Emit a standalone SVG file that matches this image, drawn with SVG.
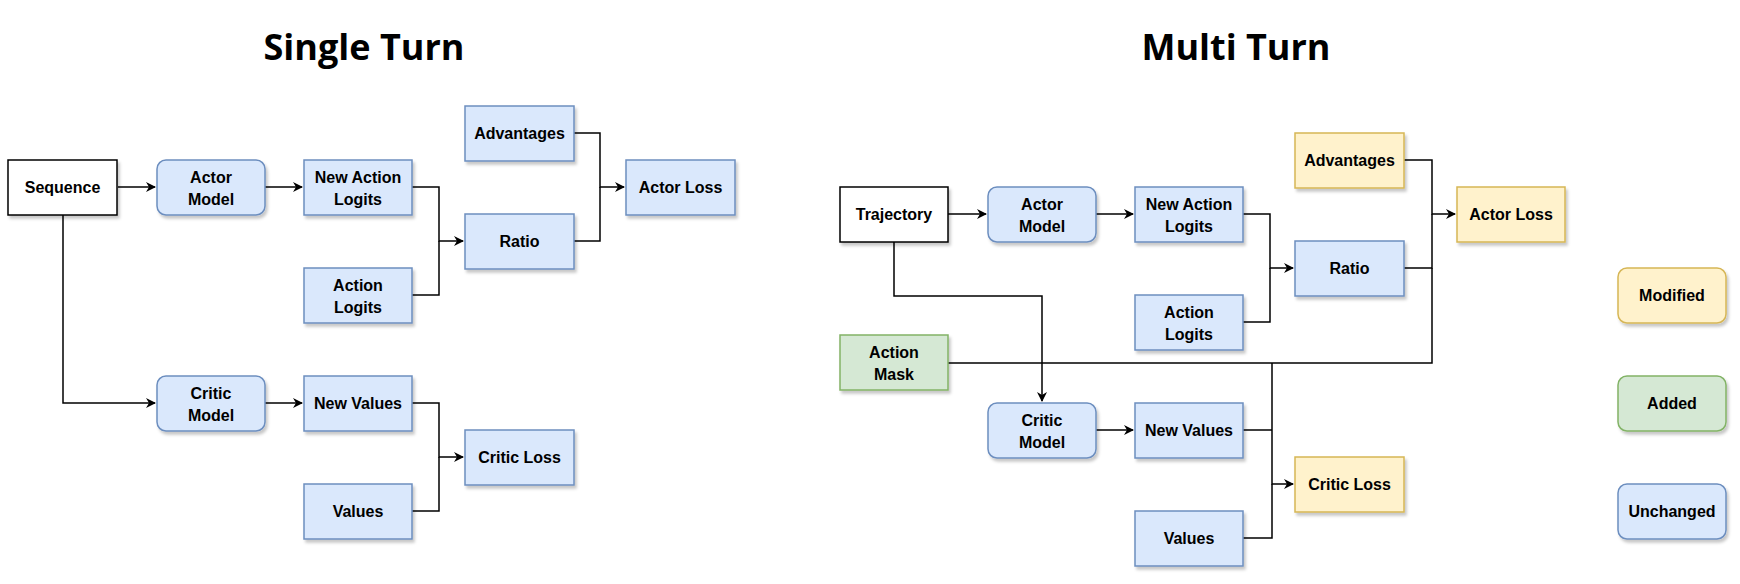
<svg xmlns="http://www.w3.org/2000/svg" width="1740" height="584" viewBox="0 0 1740 584">
<defs>
<filter id="sh" x="-10%" y="-10%" width="130%" height="140%"><feDropShadow dx="2" dy="3" stdDeviation="1.5" flood-color="#000" flood-opacity="0.22"/></filter>
<marker id="ar" markerWidth="10" markerHeight="10" refX="9" refY="5" orient="auto" markerUnits="userSpaceOnUse"><path d="M0,0 L10,5 L0,10 L3,5 Z" fill="#000"/></marker>
</defs>
<style>
.b rect{filter:url(#sh);stroke-width:1.5}
.u rect{fill:#dae8fc;stroke:#6c8ebf}
.m rect{fill:#fff2cc;stroke:#d6b656}
.a rect{fill:#d5e8d4;stroke:#82b366}
.w rect{fill:#fff;stroke:#000}
text{font-family:"Liberation Sans",Arial,sans-serif;font-weight:bold;font-size:16px;text-anchor:middle;fill:#000}
.t{font-size:36px;font-family:"Open Sans","Liberation Sans",sans-serif}
#c path{fill:none;stroke:#000;stroke-width:1.5}
</style>
<rect width="1740" height="584" fill="#fff"/>
<text class="t" x="364" y="60">Single Turn</text>
<text class="t" x="1236" y="60">Multi Turn</text>
<g id="c">
<path d="M118,187 H155" marker-end="url(#ar)"/>
<path d="M63,215 V403 H155" marker-end="url(#ar)"/>
<path d="M265,187 H302" marker-end="url(#ar)"/>
<path d="M265,403 H302" marker-end="url(#ar)"/>
<path d="M412,187 H439 V241 H463" marker-end="url(#ar)"/>
<path d="M412,295 H439 V241"/>
<path d="M574,133 H600 V187 H624" marker-end="url(#ar)"/>
<path d="M574,241 H600 V187"/>
<path d="M412,403 H439 V457 H463" marker-end="url(#ar)"/>
<path d="M412,511 H439 V457"/>
<path d="M948,214 H986" marker-end="url(#ar)"/>
<path d="M894,242 V296 H1042 V401" marker-end="url(#ar)"/>
<path d="M1096,214 H1133" marker-end="url(#ar)"/>
<path d="M1096,430 H1133" marker-end="url(#ar)"/>
<path d="M1243,214 H1270 V268 H1293" marker-end="url(#ar)"/>
<path d="M1243,322 H1270 V268"/>
<path d="M1404,160 H1432 V214 H1455" marker-end="url(#ar)"/>
<path d="M1404,268 H1432 V214"/>
<path d="M948,363 H1432 V268"/>
<path d="M1272,363 V484 H1293" marker-end="url(#ar)"/>
<path d="M1243,430 H1272"/>
<path d="M1243,538 H1272 V484"/>
</g>
<g id="seq" class="b w"><rect x="8" y="160" width="109" height="55"/><text x="62.5" y="193">Sequence</text></g>
<g id="am1" class="b u"><rect x="157" y="160" width="108" height="55" rx="9"/><text x="211" y="183">Actor</text><text x="211" y="205">Model</text></g>
<g id="nal1" class="b u"><rect x="304" y="160" width="108" height="55"/><text x="358" y="183">New Action</text><text x="358" y="205">Logits</text></g>
<g id="adv1" class="b u"><rect x="465" y="106" width="109" height="55"/><text x="519.5" y="139">Advantages</text></g>
<g id="al1" class="b u"><rect x="626" y="160" width="109" height="55"/><text x="680.5" y="193">Actor Loss</text></g>
<g id="ratio1" class="b u"><rect x="465" y="214" width="109" height="55"/><text x="519.5" y="247">Ratio</text></g>
<g id="alog1" class="b u"><rect x="304" y="268" width="108" height="55"/><text x="358" y="291">Action</text><text x="358" y="313">Logits</text></g>
<g id="cm1" class="b u"><rect x="157" y="376" width="108" height="55" rx="9"/><text x="211" y="399">Critic</text><text x="211" y="421">Model</text></g>
<g id="nv1" class="b u"><rect x="304" y="376" width="108" height="55"/><text x="358" y="409">New Values</text></g>
<g id="cl1" class="b u"><rect x="465" y="430" width="109" height="55"/><text x="519.5" y="463">Critic Loss</text></g>
<g id="val1" class="b u"><rect x="304" y="484" width="108" height="55"/><text x="358" y="517">Values</text></g>
<g id="traj" class="b w"><rect x="840" y="187" width="108" height="55"/><text x="894" y="220">Trajectory</text></g>
<g id="am2" class="b u"><rect x="988" y="187" width="108" height="55" rx="9"/><text x="1042" y="210">Actor</text><text x="1042" y="232">Model</text></g>
<g id="nal2" class="b u"><rect x="1135" y="187" width="108" height="55"/><text x="1189" y="210">New Action</text><text x="1189" y="232">Logits</text></g>
<g id="adv2" class="b m"><rect x="1295" y="133" width="109" height="55"/><text x="1349.5" y="166">Advantages</text></g>
<g id="al2" class="b m"><rect x="1457" y="187" width="108" height="55"/><text x="1511" y="220">Actor Loss</text></g>
<g id="ratio2" class="b u"><rect x="1295" y="241" width="109" height="55"/><text x="1349.5" y="274">Ratio</text></g>
<g id="alog2" class="b u"><rect x="1135" y="295" width="108" height="55"/><text x="1189" y="318">Action</text><text x="1189" y="340">Logits</text></g>
<g id="mask" class="b a"><rect x="840" y="335" width="108" height="55"/><text x="894" y="358">Action</text><text x="894" y="380">Mask</text></g>
<g id="cm2" class="b u"><rect x="988" y="403" width="108" height="55" rx="9"/><text x="1042" y="426">Critic</text><text x="1042" y="448">Model</text></g>
<g id="nv2" class="b u"><rect x="1135" y="403" width="108" height="55"/><text x="1189" y="436">New Values</text></g>
<g id="cl2" class="b m"><rect x="1295" y="457" width="109" height="55"/><text x="1349.5" y="490">Critic Loss</text></g>
<g id="val2" class="b u"><rect x="1135" y="511" width="108" height="55"/><text x="1189" y="544">Values</text></g>
<g id="lmod" class="b m"><rect x="1618" y="268" width="108" height="55" rx="9"/><text x="1672" y="301">Modified</text></g>
<g id="ladd" class="b a"><rect x="1618" y="376" width="108" height="55" rx="9"/><text x="1672" y="409">Added</text></g>
<g id="lunc" class="b u"><rect x="1618" y="484" width="108" height="55" rx="9"/><text x="1672" y="517">Unchanged</text></g>
</svg>
